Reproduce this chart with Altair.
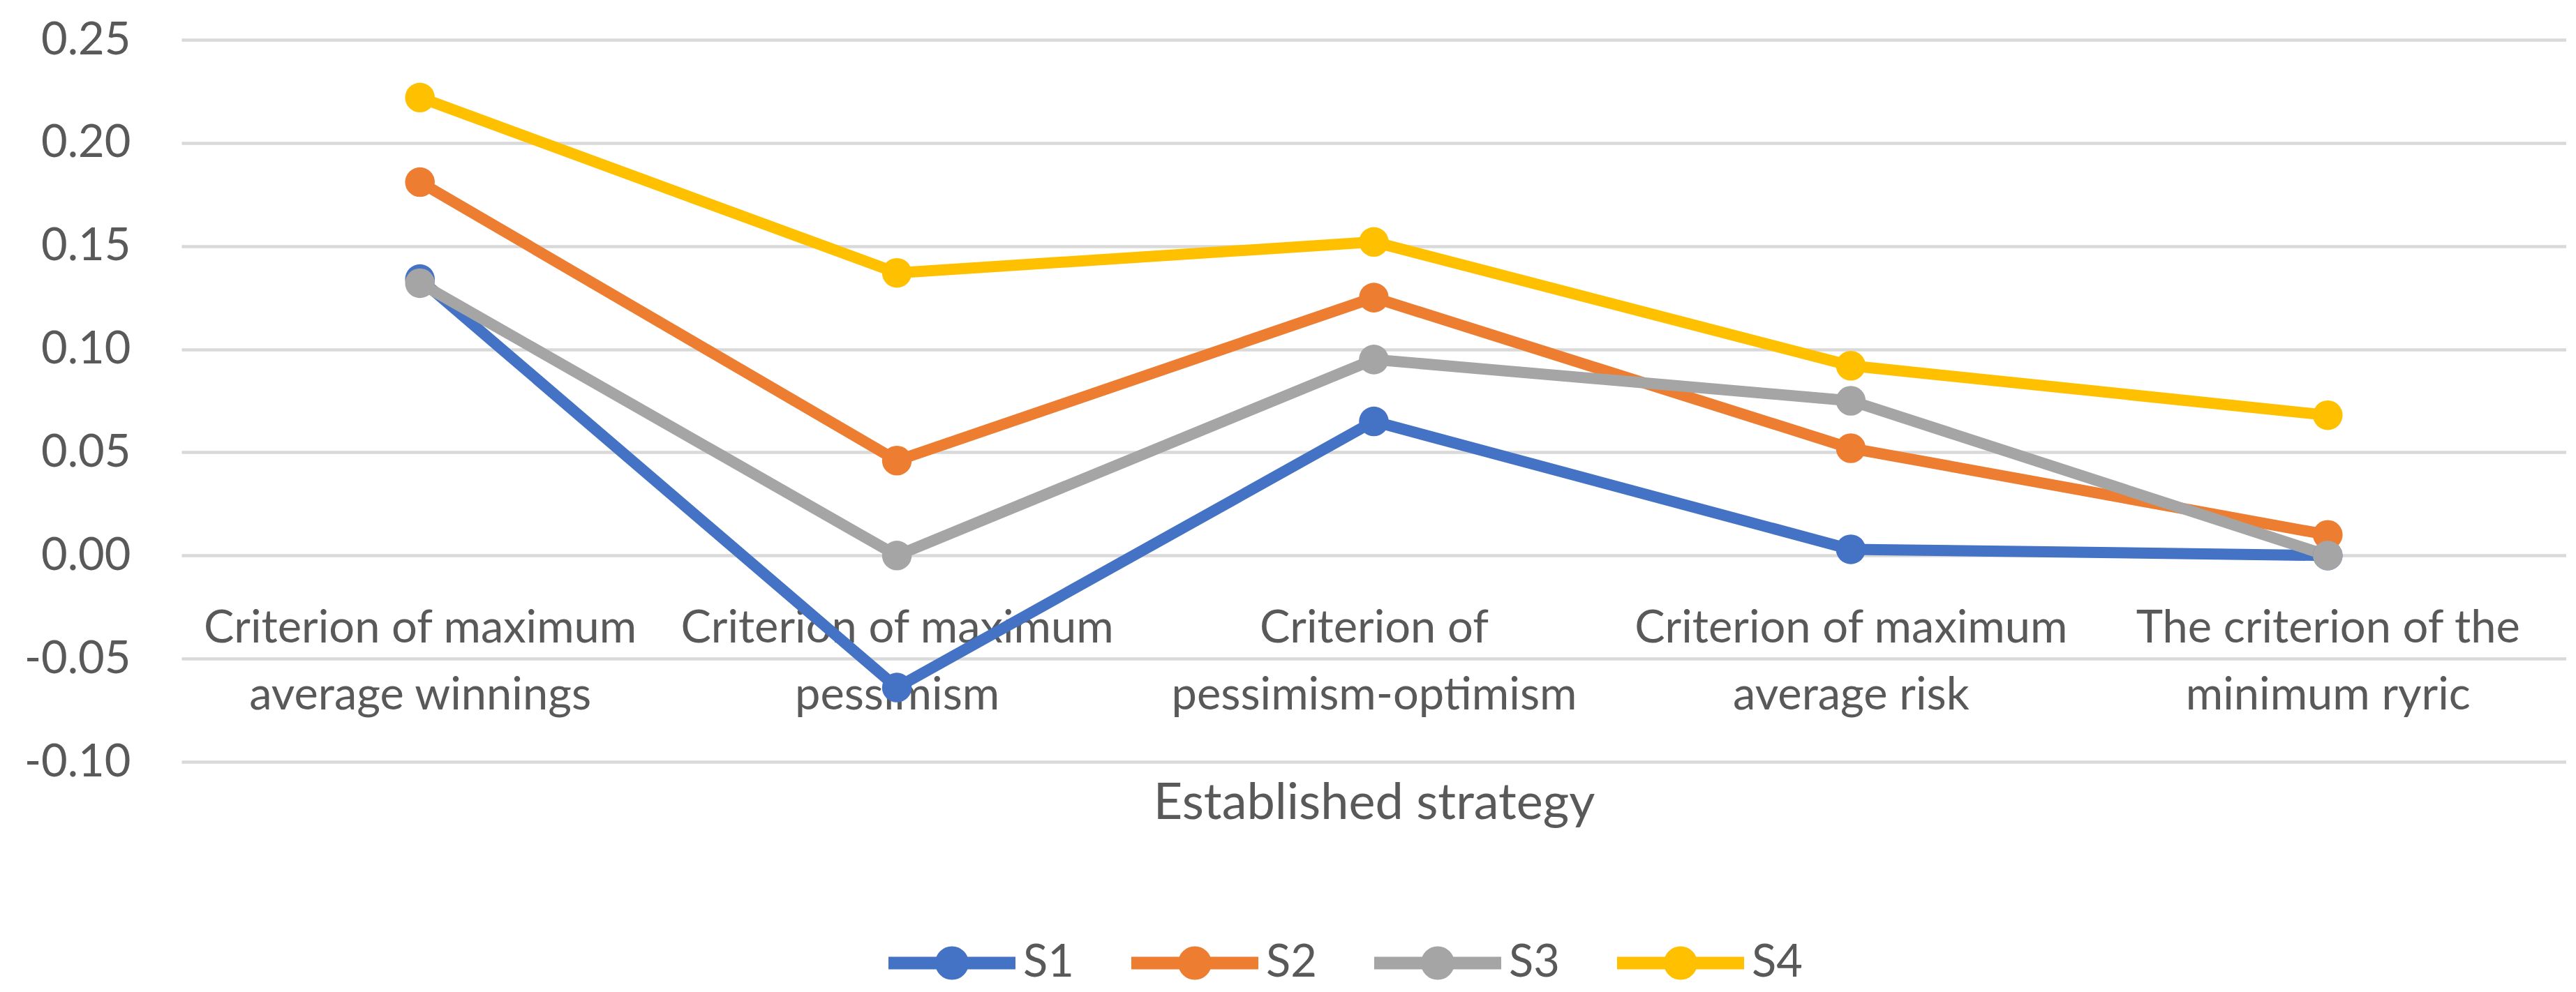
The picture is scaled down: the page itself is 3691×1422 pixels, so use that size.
import altair as alt
import pandas as pd

# ---- data ----
categories = [
    "Criterion of maximum\naverage winnings",
    "Criterion of maximum\npessimism",
    "Criterion of\npessimism-optimism",
    "Criterion of maximum\naverage risk",
    "The criterion of the\nminimum ryric",
]
series_names = ["S1", "S2", "S3", "S4"]
s1 = [0.134, -0.064, 0.065, 0.003, 0.000]
s2 = [0.181, 0.046, 0.125, 0.052, 0.010]
s3 = [0.132, 0.000, 0.095, 0.075, 0.000]
s4 = [0.222, 0.137, 0.152, 0.092, 0.068]
y_ticks = [-0.10, -0.05, 0.00, 0.05, 0.10, 0.15, 0.20, 0.25]
colors = ["#4472C4", "#ED7D31", "#A5A5A5", "#FFC000"]

rows = []
for name, vals in zip(series_names, [s1, s2, s3, s4]):
    for c, v in zip(categories, vals):
        rows.append({"strategy": c, "series": name, "value": v})
df = pd.DataFrame(rows)

FONT = "Lato"
TEXT = "#595959"

legend_symbol = (
    "M-1,0H1"
    "M0.165,0A0.165,0.165,0,1,1,-0.165,0A0.165,0.165,0,1,1,0.165,0"
    "M0.055,0A0.055,0.055,0,1,1,-0.055,0A0.055,0.055,0,1,1,0.055,0"
)

chart = alt.Chart(df).mark_line(
    strokeWidth=16,
    strokeJoin="round",
    strokeCap="round",
    point=alt.OverlayMarkDef(filled=True, size=1810, opacity=1),
).encode(
    x=alt.X(
        "strategy:N",
        sort=categories,
        axis=alt.Axis(
            title="Established strategy",
            labelExpr="split(datum.value, '\\n')",
            labelAngle=0,
            labelFont=FONT,
            labelFontSize=65,
            labelLineHeight=96,
            labelColor=TEXT,
            labelBaseline="top",
            labelPadding=73,
            labelLimit=2000,
            labelOverlap=False,
            ticks=False,
            tickSize=0,
            domain=False,
            grid=False,
            offset=-296,
            titleFont=FONT,
            titleFontSize=72,
            titleFontWeight="normal",
            titleColor=TEXT,
            titlePadding=120,
        ),
    ),
    y=alt.Y(
        "value:Q",
        scale=alt.Scale(domain=[-0.10, 0.25], nice=False, zero=False),
        axis=alt.Axis(
            title=None,
            values=y_ticks,
            labelExpr="datum.value < -0.000001 ? '-' + format(-datum.value, '.2f') : format(abs(datum.value), '.2f')",
            labelFont=FONT,
            labelFontSize=65,
            labelColor=TEXT,
            labelPadding=73,
            ticks=False,
            tickSize=0,
            domain=False,
            grid=True,
            gridColor="#D9D9D9",
            gridWidth=4.5,
        ),
    ),
    color=alt.Color(
        "series:N",
        scale=alt.Scale(domain=series_names, range=colors),
        legend=alt.Legend(
            title=None,
            orient="none",
            legendX=1004,
            legendY=1223,
            direction="horizontal",
            symbolType=legend_symbol,
            symbolSize=33124,
            symbolStrokeWidth=18,
            labelFont=FONT,
            labelFontSize=65,
            labelColor=TEXT,
            labelOffset=2,
            columnPadding=46,
            padding=0,
        ),
    ),
).properties(
    width=3417,
    height=1035,
    autosize=alt.AutoSizeParams(type="none"),
    padding={"left": 252, "top": 49, "right": 0, "bottom": 324},
    background="white",
).configure_view(stroke=None)

chart.save("out.html", embed_options={"renderer": "svg", "actions": False})
